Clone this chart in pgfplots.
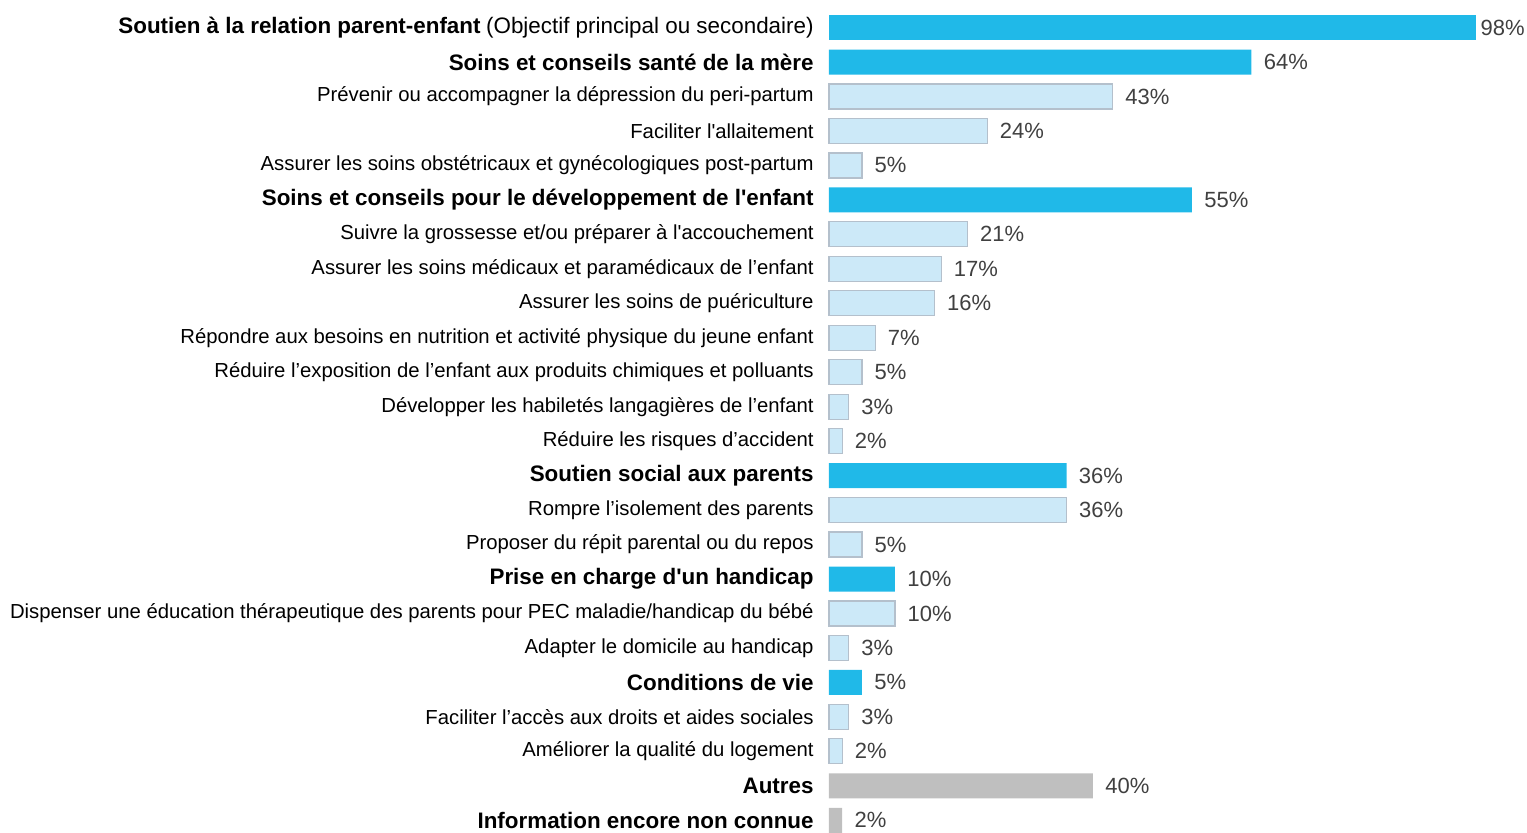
\documentclass[border=0pt]{standalone}
\usepackage{pgfplots}
\pgfplotsset{compat=1.18}
\usepackage{fontspec}
\setmainfont{Liberation Sans}
\definecolor{bblue}{RGB}{32,185,232}
\definecolor{lblue}{RGB}{204,233,248}
\definecolor{lborder}{RGB}{180,192,204}
\definecolor{gbar}{RGB}{191,191,191}
\definecolor{valtxt}{RGB}{64,64,64}
\newcommand{\rf}{\fontsize{10.15}{12}\selectfont}
\newcommand{\bfl}[1]{{\fontsize{11.2}{13}\selectfont\bfseries #1}}
\newcommand{\ap}{\textquotesingle}
\begin{document}
\begin{tikzpicture}
\begin{axis}[
  at={(0,0)}, anchor=south west,
  scale only axis,
  width=330pt, height=416pt,
  xmin=0, xmax=100,
  ymin=-0.8, ymax=23.34,
  y dir=reverse,
  xbar, bar width=12.5pt, bar shift=0pt,
  axis line style={draw=none},
  tick style={draw=none},
  major tick length=0pt,
  xtick=\empty,
  ytick={0,...,23},
  yticklabel style={anchor=east, inner sep=0pt, xshift=-7.5pt, text=black},
  yticklabels={
    {\bfl{Soutien à la relation parent-enfant} {\fontsize{11.2}{13}\selectfont(Objectif principal ou secondaire)}},
    {\bfl{Soins et conseils santé de la mère}},
    {\rf Prévenir ou accompagner la dépression du peri-partum},
    {\rf Faciliter l\ap allaitement},
    {\rf Assurer les soins obstétricaux et gynécologiques post-partum},
    {\bfl{Soins et conseils pour le développement de l\ap enfant}},
    {\rf Suivre la grossesse et/ou préparer à l\ap accouchement},
    {\rf Assurer les soins médicaux et paramédicaux de l’enfant},
    {\rf Assurer les soins de puériculture},
    {\rf Répondre aux besoins en nutrition et activité physique du jeune enfant},
    {\rf Réduire l’exposition de l’enfant aux produits chimiques et polluants},
    {\rf Développer les habiletés langagières de l’enfant},
    {\rf Réduire les risques d’accident},
    {\bfl{Soutien social aux parents}},
    {\rf Rompre l’isolement des parents},
    {\rf Proposer du répit parental ou du repos},
    {\bfl{Prise en charge d\ap un handicap}},
    {\rf Dispenser une éducation thérapeutique des parents pour PEC maladie/handicap du bébé},
    {\rf Adapter le domicile au handicap},
    {\bfl{Conditions de vie}},
    {\rf Faciliter l’accès aux droits et aides sociales},
    {\rf Améliorer la qualité du logement},
    {\bfl{Autres}},
    {\bfl{Information encore non connue}}
  },
  nodes near coords={\pgfmathprintnumber[assume math mode=true]{\pgfplotspointmeta}\%},
  nodes near coords align={horizontal},
  every node near coord/.append style={font=\fontsize{11}{13}\selectfont, text=valtxt, inner sep=0pt, xshift=6pt},
  clip=false,
]
\addplot[fill=bblue, draw=none, every node near coord/.append style={xshift=-3.8pt}] coordinates {
  (98,0)
};
\addplot[fill=bblue, draw=none] coordinates {
  (64,1) (55,5) (36,13) (10,16) (5,19)
};
\addplot[fill=lblue, draw=lborder, line width=0.6pt] coordinates {
  (43,2) (24,3) (5,4) (21,6) (17,7) (16,8) (7,9) (5,10) (3,11) (2,12)
  (36,14) (5,15) (10,17) (3,18) (3,20) (2,21)
};
\addplot[fill=gbar, draw=none] coordinates {
  (40,22) (2,23)
};
\end{axis}
\pgfresetboundingbox
\useasboundingbox (-414.5pt,0) rectangle (349pt,416pt);
\end{tikzpicture}
\end{document}
